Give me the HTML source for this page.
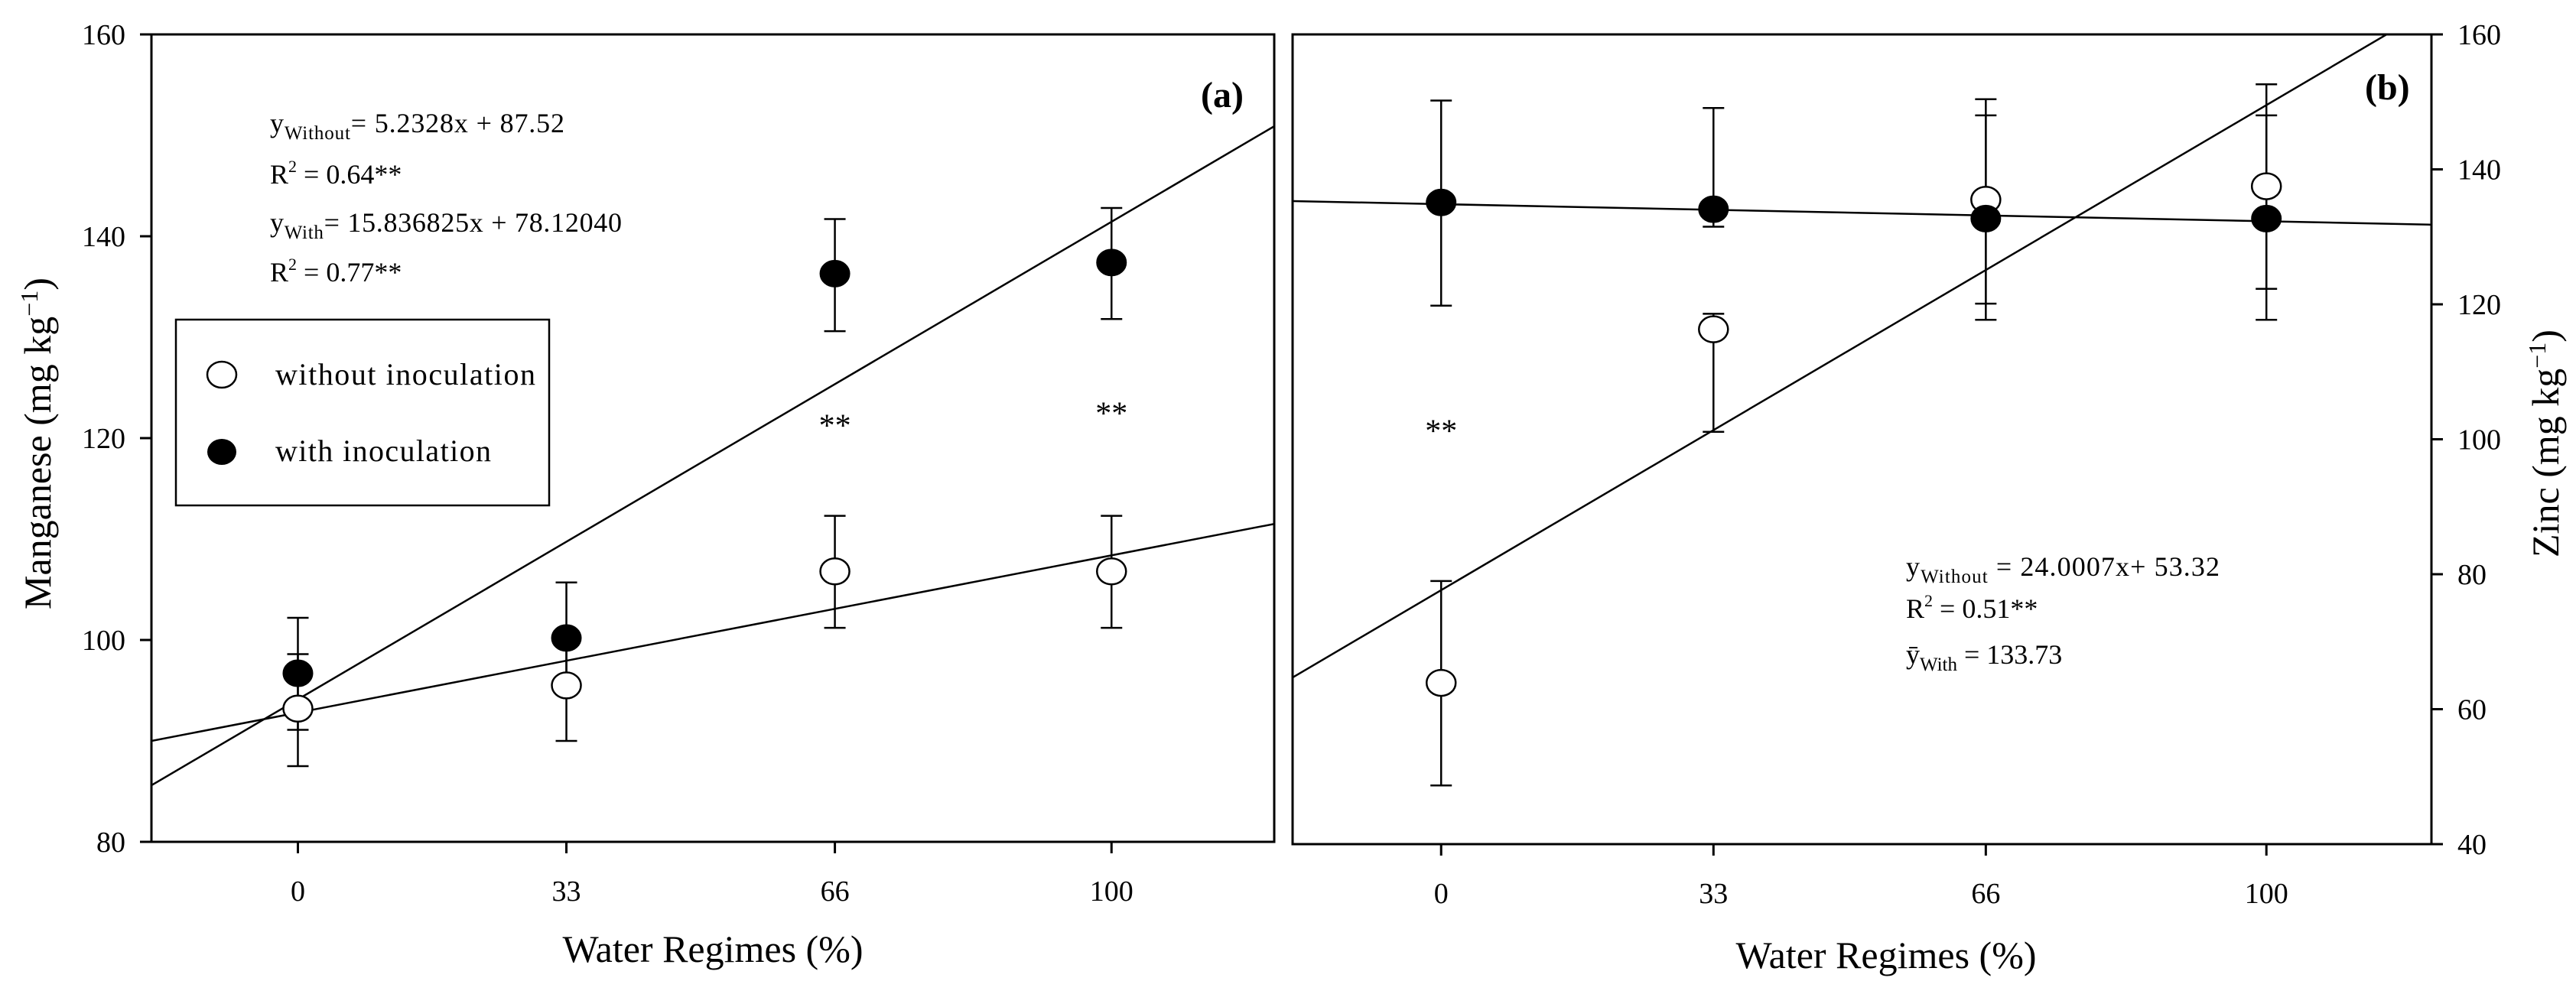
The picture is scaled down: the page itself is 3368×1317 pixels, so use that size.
<!DOCTYPE html>
<html><head><meta charset="utf-8"><style>
html,body{margin:0;padding:0;background:#fff;}
svg{display:block;font-family:"Liberation Serif",serif;}
</style></head><body>
<svg id="chart" width="3368" height="1317" viewBox="0 0 3368 1317" xmlns="http://www.w3.org/2000/svg">
<g id="pa"></g>
<g id="pb"></g>
</svg>
<script>
const categories = [0, 33, 66, 100];
const mnWithout = [93.2, 95.5, 106.8, 106.8];
const mnWithoutErrHi = [98.6, 101.0, 112.3, 112.3];
const mnWithoutErrLo = [87.5, 90.0, 101.2, 101.2];
const mnWith = [96.7, 100.2, 136.3, 137.4];
const mnWithErrHi = [102.2, 105.7, 141.7, 142.8];
const mnWithErrLo = [91.1, 95.0, 130.6, 131.8];
const mnFitWithout = [90.0, 111.5];
const mnFitWith = [85.6, 150.9];
const mnStars = [[66, 121.7], [100, 122.9]];
const mnYTicks = [80, 100, 120, 140, 160];

const znWithout = [63.9, 116.3, 135.5, 137.5];
const znWithoutErrHi = [79.0, 118.6, 148.0, 148.0];
const znWithoutErrLo = [48.7, 101.1, 120.1, 122.3];
const znWith = [135.1, 134.1, 132.7, 132.7];
const znWithErrHi = [150.2, 149.1, 150.4, 152.6];
const znWithErrLo = [119.8, 131.5, 117.7, 117.7];
const znFitWithout = [64.7, 163.9];
const znFitWith = [135.3, 131.8];
const znStars = [[0, 101.9]];
const znYTicks = [40, 60, 80, 100, 120, 140, 160];

const NS = "http://www.w3.org/2000/svg";
function mk(parent, tag, attrs, text) {
  const e = document.createElementNS(NS, tag);
  for (const k in attrs) e.setAttribute(k, attrs[k]);
  if (text !== undefined) e.textContent = text;
  parent.appendChild(e);
  return e;
}
const XMIN = -18, XMAX = 120;

function drawPanel(g, o) {
  const sx = v => o.left + (v - XMIN) / (XMAX - XMIN) * (o.right - o.left);
  const sy = v => o.bottom - (v - o.ymin) / (o.ymax - o.ymin) * (o.bottom - o.top);
  const clipId = o.id + "clip";
  const defs = mk(g, "defs", {});
  const cp = mk(defs, "clipPath", {id: clipId});
  mk(cp, "rect", {x: o.left, y: o.top, width: o.right - o.left, height: o.bottom - o.top});
  const frame = mk(g, "rect", {x: o.left, y: o.top, width: o.right - o.left, height: o.bottom - o.top, fill: "none", stroke: "#000", "stroke-width": 3});
  
  
  categories.forEach(c => {
    const t = mk(g, "line", {x1: sx(c), x2: sx(c), y1: o.bottom, y2: o.bottom + 15, stroke: "#000", "stroke-width": 3});
    
    
    const l = mk(g, "text", {x: sx(c), y: o.bottom + 77, "text-anchor": "middle", "font-size": 38}, String(c));
    
    
  });
  const ax = o.yRight ? o.right : o.left;
  const dir = o.yRight ? 1 : -1;
  o.yTicks.forEach(v => {
    const t = mk(g, "line", {x1: ax, x2: ax + dir * 15, y1: sy(v), y2: sy(v), stroke: "#000", "stroke-width": 3});
    
    
    const l = mk(g, "text", {x: ax + dir * 34, y: sy(v) + 13, "text-anchor": o.yRight ? "start" : "end", "font-size": 38}, String(v));
    
    
  });
  const inner = mk(g, "g", {"clip-path": "url(#" + clipId + ")"});
  const f1 = mk(inner, "line", {x1: sx(XMIN), y1: sy(o.fitWithout[0]), x2: sx(XMAX), y2: sy(o.fitWithout[1]), stroke: "#000", "stroke-width": 2.5});
  
  
  const f2 = mk(inner, "line", {x1: sx(XMIN), y1: sy(o.fitWith[0]), x2: sx(XMAX), y2: sy(o.fitWith[1]), stroke: "#000", "stroke-width": 2.5});
  
  
  function err(vals, hi, lo, name) {
    categories.forEach((c, i) => {
      const x = sx(c);
      const eg = mk(g, "g", {stroke: "#000", "stroke-width": 2.5});
      
      
      mk(eg, "line", {x1: x, x2: x, y1: sy(hi[i]), y2: sy(lo[i])});
      mk(eg, "line", {x1: x - 14, x2: x + 14, y1: sy(hi[i]), y2: sy(hi[i])});
      mk(eg, "line", {x1: x - 14, x2: x + 14, y1: sy(lo[i]), y2: sy(lo[i])});
    });
  }
  err(o.without, o.withoutHi, o.withoutLo, 'error-bar-without');
  err(o.with, o.withHi, o.withLo, 'error-bar-with');
  categories.forEach((c, i) => {
    const p = mk(g, "ellipse", {cx: sx(c), cy: sy(o.without[i]), rx: 19, ry: 17, fill: "#fff", stroke: "#000", "stroke-width": 2.5});
    
    
  });
  categories.forEach((c, i) => {
    const p = mk(g, "ellipse", {cx: sx(c), cy: sy(o.with[i]), rx: 19, ry: 17, fill: "#000", stroke: "#000", "stroke-width": 2});
    
    
  });
  o.stars.forEach(s => {
    const t = mk(g, "text", {x: sx(s[0]), y: sy(s[1]) + 20, "text-anchor": "middle", "font-size": 42}, "**");
    
    
  });
}

const pa = document.getElementById("pa");
drawPanel(pa, {id: "a", left: 198, right: 1666, top: 45, bottom: 1101, ymin: 80, ymax: 160, yTicks: mnYTicks, yRight: false,
  without: mnWithout, withoutHi: mnWithoutErrHi, withoutLo: mnWithoutErrLo,
  with: mnWith, withHi: mnWithErrHi, withLo: mnWithErrLo,
  fitWithout: mnFitWithout, fitWith: mnFitWith, stars: mnStars});
const pb = document.getElementById("pb");
drawPanel(pb, {id: "b", left: 1690, right: 3179, top: 45, bottom: 1104, ymin: 40, ymax: 160, yTicks: znYTicks, yRight: true,
  without: znWithout, withoutHi: znWithoutErrHi, withoutLo: znWithoutErrLo,
  with: znWith, withHi: znWithErrHi, withLo: znWithErrLo,
  fitWithout: znFitWithout, fitWith: znFitWith, stars: znStars});
</script>
<script>
const svg = document.getElementById("chart");
svg.insertAdjacentHTML("beforeend", `
<g font-size="36">
  <text x="353" y="173" textLength="385">y<tspan font-size="25" dy="9">Without</tspan><tspan dy="-9">= 5.2328x + 87.52</tspan></text>
  <text x="353" y="240">R<tspan font-size="22" dy="-15">2</tspan><tspan dy="15"> = 0.64**</tspan></text>
  <text x="353" y="303" textLength="460">y<tspan font-size="25" dy="9">With</tspan><tspan dy="-9">= 15.836825x + 78.12040</tspan></text>
  <text x="353" y="368">R<tspan font-size="22" dy="-15">2</tspan><tspan dy="15"> = 0.77**</tspan></text>
  <text x="1570" y="140" font-size="48" font-weight="bold">(a)</text>
</g>
<g>
  <rect x="230" y="418" width="488" height="243" fill="#fff" stroke="#000" stroke-width="2.5"/>
  <ellipse cx="290" cy="490" rx="19" ry="17" fill="#fff" stroke="#000" stroke-width="2.5"/>
  <text x="360" y="503" font-size="40" textLength="340">without inoculation</text>
  <ellipse cx="290" cy="591" rx="19" ry="17" fill="#000"/>
  <text x="360" y="603" font-size="40" textLength="282">with inoculation</text>
</g>
<text transform="translate(66,580) rotate(-90)" text-anchor="middle" font-size="50">Manganese (mg kg<tspan font-size="32" dy="-17">−1</tspan><tspan dy="17">)</tspan></text>
<text x="932" y="1258" text-anchor="middle" font-size="50">Water Regimes (%)</text>
<g font-size="36">
  <text x="2492" y="753" textLength="410">y<tspan font-size="25" dy="9">Without</tspan><tspan dy="-9"> = 24.0007x+ 53.32</tspan></text>
  <text x="2492" y="808">R<tspan font-size="22" dy="-15">2</tspan><tspan dy="15"> = 0.51**</tspan></text>
  <text x="2492" y="868">ȳ<tspan font-size="25" dy="9">With</tspan><tspan dy="-9"> = 133.73</tspan></text>
  <text x="3092" y="130" font-size="48" font-weight="bold">(b)</text>
</g>
<text transform="translate(3345,580) rotate(-90)" text-anchor="middle" font-size="50">Zinc (mg kg<tspan font-size="32" dy="-17">−1</tspan><tspan dy="17">)</tspan></text>
<text x="2466" y="1266" text-anchor="middle" font-size="50">Water Regimes (%)</text>
`);
</script>
</body></html>
